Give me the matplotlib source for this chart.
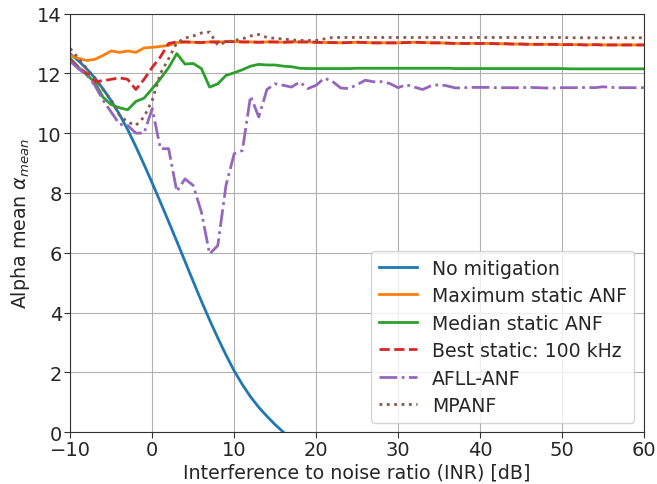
import numpy as np
import matplotlib
matplotlib.use("Agg")
import matplotlib.pyplot as plt

inr = np.arange(-10, 61)

no_mitigation_x = np.arange(-10, 17)
no_mitigation = [12.65, 12.42, 12.15, 11.84, 11.48, 11.08, 10.63, 10.12, 9.55, 8.95, 8.33,
                 7.69, 7.04, 6.38, 5.71, 5.04, 4.38, 3.75, 3.15, 2.58, 2.05,
                 1.59, 1.18, 0.83, 0.53, 0.25, 0.0]

max_static = [12.6, 12.5, 12.43, 12.47, 12.6, 12.75, 12.7, 12.75, 12.7, 12.85, 12.87,
              12.9, 12.94, 13.03, 13.05, 13.04, 13.03, 13.05, 13.05, 13.06, 13.06,
              13.05, 13.05, 13.04, 13.05, 13.05, 13.04, 13.05, 13.05, 13.05, 13.04,
              13.03, 13.03, 13.02, 13.03, 13.04, 13.03, 13.02, 13.02, 13.02, 13.02,
              13.03, 13.04, 13.03, 13.02, 13.02, 13.01, 13.0, 13.0, 13.0, 13.0,
              13.0, 12.99, 12.99, 12.98, 12.98, 12.97, 12.97, 12.97, 12.97, 12.96,
              12.96, 12.96, 12.95, 12.96, 12.95, 12.95, 12.95, 12.95, 12.95, 12.95]

median_static = [12.5, 12.2, 11.95, 11.7, 11.2, 10.95, 10.85, 10.78, 11.06, 11.17, 11.49,
                 11.82, 12.19, 12.66, 12.31, 12.33, 12.16, 11.54, 11.65, 11.93, 12.02,
                 12.12, 12.24, 12.3, 12.28, 12.28, 12.24, 12.22, 12.17, 12.16, 12.16,
                 12.16, 12.16, 12.16, 12.16, 12.17, 12.17, 12.17, 12.17, 12.17, 12.17,
                 12.17, 12.17, 12.17, 12.17, 12.17, 12.17, 12.16, 12.16, 12.16, 12.16,
                 12.16, 12.16, 12.16, 12.16, 12.16, 12.16, 12.16, 12.16, 12.16, 12.16,
                 12.15, 12.15, 12.15, 12.15, 12.15, 12.15, 12.15, 12.15, 12.15, 12.15]

best_static = [12.45, 12.2, 12.0, 11.73, 11.75, 11.8, 11.85, 11.8, 11.46, 11.8, 12.2,
               12.55, 13.0, 13.05, 13.05, 13.04, 13.03, 13.05, 13.05, 13.06, 13.06,
               13.05, 13.05, 13.04, 13.05, 13.05, 13.04, 13.05, 13.05, 13.05, 13.04,
               13.03, 13.03, 13.02, 13.03, 13.04, 13.03, 13.02, 13.02, 13.02, 13.02,
               13.03, 13.04, 13.03, 13.02, 13.02, 13.01, 13.0, 13.0, 13.0, 13.0,
               13.0, 12.99, 12.99, 12.98, 12.98, 12.97, 12.97, 12.97, 12.97, 12.96,
               12.96, 12.96, 12.95, 12.96, 12.95, 12.95, 12.95, 12.95, 12.95, 12.95]

afll_anf = [12.4, 12.15, 11.95, 11.6, 11.1, 10.7, 10.3, 10.26, 10.0, 10.0, 10.82,
            9.48, 9.48, 8.05, 8.47, 8.25, 7.36, 5.96, 6.24, 8.25, 9.31,
            9.42, 11.24, 10.54, 11.46, 11.65, 11.6, 11.54, 11.71, 11.49, 11.6,
            11.84, 11.73, 11.51, 11.49, 11.62, 11.77, 11.72, 11.72, 11.66, 11.52,
            11.62, 11.54, 11.46, 11.58, 11.62, 11.58, 11.51, 11.52, 11.53, 11.53,
            11.53, 11.52, 11.52, 11.52, 11.52, 11.53, 11.52, 11.51, 11.51, 11.52,
            11.52, 11.52, 11.53, 11.52, 11.55, 11.53, 11.52, 11.52, 11.52, 11.52]

mpanf = [12.83, 12.5, 12.15, 11.85, 11.45, 11.1, 10.6, 10.37, 10.26, 10.54, 11.1,
         12.0, 12.49, 13.02, 13.18, 13.25, 13.35, 13.38, 12.94, 13.05, 13.1,
         13.15, 13.25, 13.3, 13.2, 13.17, 13.15, 13.12, 13.1, 13.1, 13.1,
         13.15, 13.2, 13.2, 13.2, 13.2, 13.2, 13.2, 13.2, 13.2, 13.2,
         13.2, 13.2, 13.2, 13.2, 13.2, 13.2, 13.2, 13.2, 13.2, 13.2,
         13.2, 13.2, 13.2, 13.2, 13.2, 13.2, 13.2, 13.2, 13.2, 13.2,
         13.19, 13.19, 13.19, 13.19, 13.19, 13.19, 13.19, 13.19, 13.19, 13.19]

dark = "#262626"
plt.rcParams["font.family"] = "DejaVu Sans"
plt.rcParams["text.color"] = dark
plt.rcParams["axes.labelcolor"] = dark
plt.rcParams["xtick.color"] = dark
plt.rcParams["ytick.color"] = dark

fig, ax = plt.subplots(figsize=(6.57, 4.85), dpi=100)
ax.plot(no_mitigation_x, no_mitigation, color="#1f77b4", lw=2, label="No mitigation")
ax.plot(inr, max_static, color="#ff7f0e", lw=2, label="Maximum static ANF")
ax.plot(inr, median_static, color="#2ca02c", lw=2, label="Median static ANF")
ax.plot(inr, best_static, color="#d62728", lw=2, ls="--", label="Best static: 100 kHz")
ax.plot(inr, afll_anf, color="#9467bd", lw=2, ls="-.", label="AFLL-ANF")
ax.plot(inr, mpanf, color="#8c564b", lw=2, ls=":", label="MPANF")

ax.set_xlim(-10, 60)
ax.set_ylim(0, 14)
ax.set_xticks(np.arange(-10, 61, 10))
ax.set_yticks(np.arange(0, 15, 2))
ax.grid(True, color="#b0b0b0", lw=0.8)
ax.tick_params(labelsize=14, length=4, pad=2, color="#333333")
for s in ax.spines.values():
    s.set_color("#333333")
ax.set_xlabel("Interference to noise ratio (INR) [dB]", fontsize=13.7, labelpad=2)
ax.set_ylabel(r"Alpha mean $\alpha_{mean}$", fontsize=13.7, labelpad=4)
ax.legend(loc="lower right", fontsize=13.6, labelspacing=0.45, borderaxespad=0.5)

fig.subplots_adjust(left=0.107, right=0.98, top=0.97, bottom=0.107)
fig.savefig("out.png", dpi=100)
